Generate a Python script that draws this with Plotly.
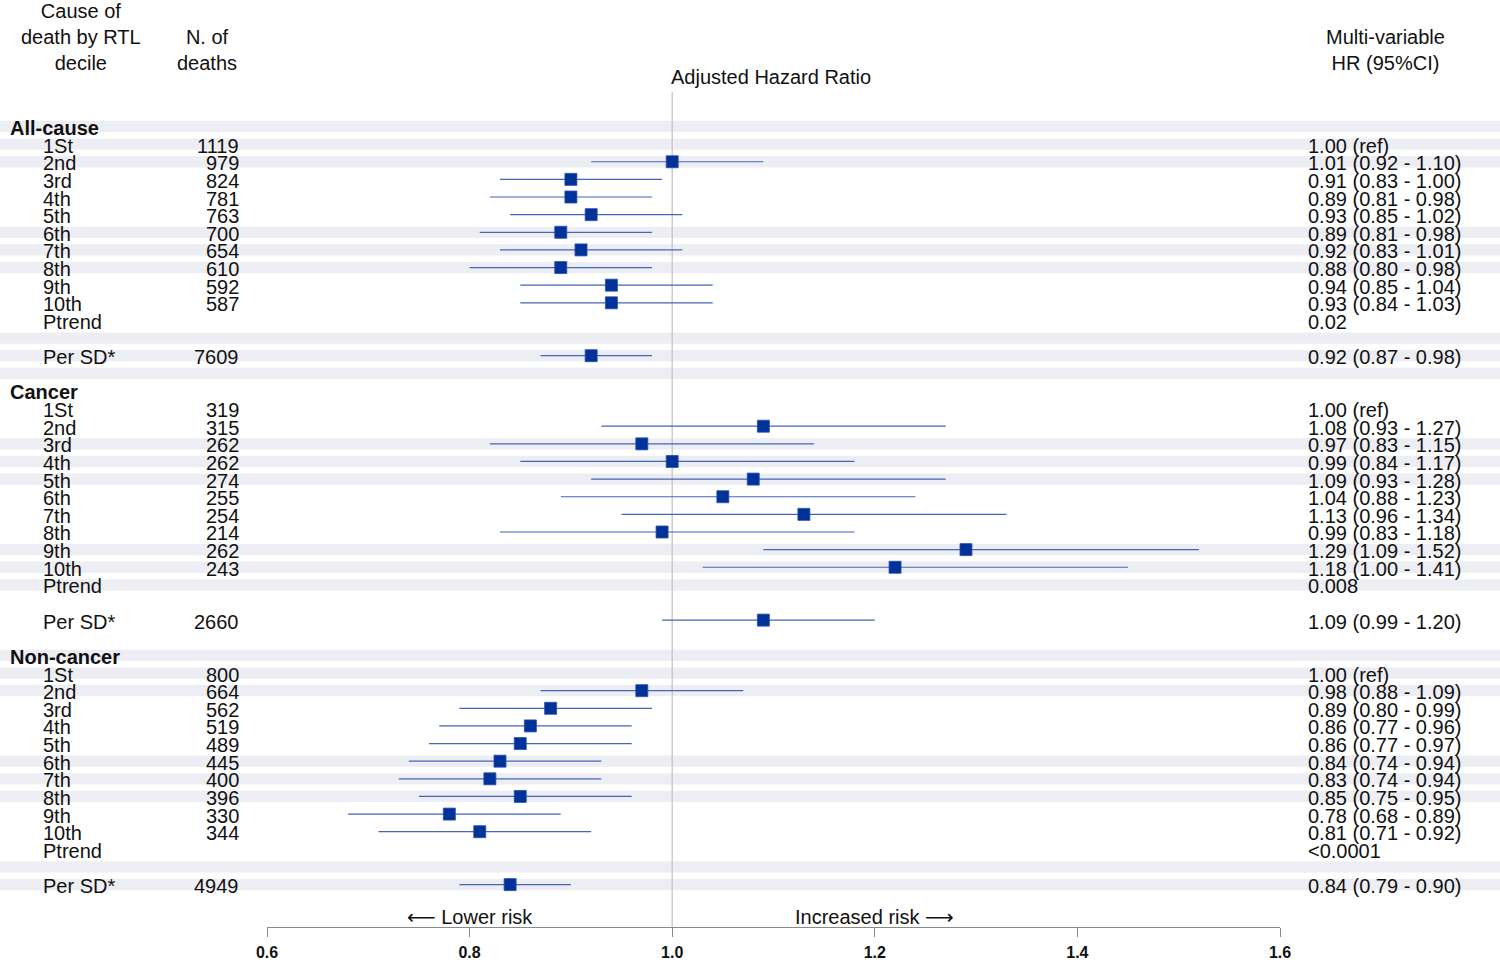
import plotly.graph_objects as go

# ---------------- data ----------------
sections = ["All-cause", "Cancer", "Non-cancer"]
decile_labels = ["1St", "2nd", "3rd", "4th", "5th", "6th", "7th", "8th", "9th", "10th"]

allcause_n = [1119, 979, 824, 781, 763, 700, 654, 610, 592, 587]
allcause_n_sd = 7609
allcause_hr_text = ["1.00 (ref)", "1.01 (0.92 - 1.10)", "0.91 (0.83 - 1.00)", "0.89 (0.81 - 0.98)",
                    "0.93 (0.85 - 1.02)", "0.89 (0.81 - 0.98)", "0.92 (0.83 - 1.01)", "0.88 (0.80 - 0.98)",
                    "0.94 (0.85 - 1.04)", "0.93 (0.84 - 1.03)"]
allcause_ptrend = "0.02"
allcause_sd_text = "0.92 (0.87 - 0.98)"
allcause_est = [None, 1.00, 0.90, 0.90, 0.92, 0.89, 0.91, 0.89, 0.94, 0.94]
allcause_lo = [None, 0.92, 0.83, 0.82, 0.84, 0.81, 0.83, 0.80, 0.85, 0.85]
allcause_hi = [None, 1.09, 0.99, 0.98, 1.01, 0.98, 1.01, 0.98, 1.04, 1.04]
allcause_sd = [0.92, 0.87, 0.98]

cancer_n = [319, 315, 262, 262, 274, 255, 254, 214, 262, 243]
cancer_n_sd = 2660
cancer_hr_text = ["1.00 (ref)", "1.08 (0.93 - 1.27)", "0.97 (0.83 - 1.15)", "0.99 (0.84 - 1.17)",
                  "1.09 (0.93 - 1.28)", "1.04 (0.88 - 1.23)", "1.13 (0.96 - 1.34)", "0.99 (0.83 - 1.18)",
                  "1.29 (1.09 - 1.52)", "1.18 (1.00 - 1.41)"]
cancer_ptrend = "0.008"
cancer_sd_text = "1.09 (0.99 - 1.20)"
cancer_est = [None, 1.09, 0.97, 1.00, 1.08, 1.05, 1.13, 0.99, 1.29, 1.22]
cancer_lo = [None, 0.93, 0.82, 0.85, 0.92, 0.89, 0.95, 0.83, 1.09, 1.03]
cancer_hi = [None, 1.27, 1.14, 1.18, 1.27, 1.24, 1.33, 1.18, 1.52, 1.45]
cancer_sd = [1.09, 0.99, 1.20]

noncancer_n = [800, 664, 562, 519, 489, 445, 400, 396, 330, 344]
noncancer_n_sd = 4949
noncancer_hr_text = ["1.00 (ref)", "0.98 (0.88 - 1.09)", "0.89 (0.80 - 0.99)", "0.86 (0.77 - 0.96)",
                     "0.86 (0.77 - 0.97)", "0.84 (0.74 - 0.94)", "0.83 (0.74 - 0.94)", "0.85 (0.75 - 0.95)",
                     "0.78 (0.68 - 0.89)", "0.81 (0.71 - 0.92)"]
noncancer_ptrend = "<0.0001"
noncancer_sd_text = "0.84 (0.79 - 0.90)"
noncancer_est = [None, 0.97, 0.88, 0.86, 0.85, 0.83, 0.82, 0.85, 0.78, 0.81]
noncancer_lo = [None, 0.87, 0.79, 0.77, 0.76, 0.74, 0.73, 0.75, 0.68, 0.71]
noncancer_hi = [None, 1.07, 0.98, 0.96, 0.96, 0.93, 0.93, 0.96, 0.89, 0.92]
noncancer_sd = [0.84, 0.79, 0.90]

x_ticks = [0.6, 0.8, 1.0, 1.2, 1.4, 1.6]

section_data = [
    (allcause_n, allcause_n_sd, allcause_hr_text, allcause_ptrend, allcause_sd_text,
     allcause_est, allcause_lo, allcause_hi, allcause_sd),
    (cancer_n, cancer_n_sd, cancer_hr_text, cancer_ptrend, cancer_sd_text,
     cancer_est, cancer_lo, cancer_hi, cancer_sd),
    (noncancer_n, noncancer_n_sd, noncancer_hr_text, noncancer_ptrend, noncancer_sd_text,
     noncancer_est, noncancer_lo, noncancer_hi, noncancer_sd),
]

# ---------------- styling ----------------
FONT = "Liberation Sans"
FS = 20
W, H = 1500, 962
ML, MR, MT, MB = 267, 220, 92, 35
PW = W - ML - MR
PH = H - MT - MB
ROWS_PER_SECTION = 15
N_ROWS = ROWS_PER_SECTION * len(sections)
ROW_PX = 17.63
FIRST_ROW_PX = 126.5  # pixel of first row centre (from top of figure)

def px_to_paper_x(px):
    return (px - ML) / PW

def px_to_paper_y(py):
    return (H - MB - py) / PH

y_top = (MT - FIRST_ROW_PX) / ROW_PX
y_bot = (H - MB - FIRST_ROW_PX) / ROW_PX

fig = go.Figure()
shapes = []
annotations = []

# zebra stripes: groups of three rows (the trailing blank row is not striped)
for r in range(N_ROWS - 1):
    if (r // 3) % 2 == 0:
        shapes.append(dict(type="rect", xref="paper", yref="y",
                           x0=px_to_paper_x(0), x1=px_to_paper_x(W),
                           y0=r - 0.32, y1=r + 0.32,
                           fillcolor="#EDEEF3", line=dict(width=0), layer="below"))

# reference line at HR = 1
shapes.append(dict(type="line", xref="x", yref="paper", x0=1.0, x1=1.0, y0=0, y1=1,
                   line=dict(color="#C4C4C4", width=1.3), layer="below"))

def txt(text, xp, y, anchor, bold=False, yref="y", size=FS, yshift=-1.5):
    annotations.append(dict(text=("<b>%s</b>" % text) if bold else text,
                            x=xp, y=y, xref="paper", yref=yref,
                            xanchor=anchor, yanchor="middle", showarrow=False,
                            yshift=yshift,
                            font=dict(family=FONT, size=size, color="#111111")))

X_SEC = px_to_paper_x(8)
X_LAB = px_to_paper_x(41)
X_N = px_to_paper_x(241)
X_HR = px_to_paper_x(1306)

ci_x, ci_y, pt_x, pt_y = [], [], [], []

for s, name in enumerate(sections):
    n, n_sd, hr_text, ptrend, sd_text, est, lo, hi, sd = section_data[s]
    base = s * ROWS_PER_SECTION
    txt(name, X_SEC, base, "left", bold=True)
    for d, lab in enumerate(decile_labels):
        row = base + 1 + d
        txt(lab, X_LAB, row, "left")
        txt(str(n[d]), X_N, row, "right")
        txt(hr_text[d], X_HR, row, "left")
        if est[d] is not None:
            pt_x.append(est[d]); pt_y.append(row)
            ci_x += [lo[d], hi[d], None]; ci_y += [row, row, None]
    row = base + 11
    txt("Ptrend", X_LAB, row, "left")
    txt(ptrend, X_HR, row, "left")
    row = base + 13
    txt("Per SD*", X_LAB, row, "left")
    txt(str(n_sd), X_N, row, "right")
    txt(sd_text, X_HR, row, "left")
    pt_x.append(sd[0]); pt_y.append(row)
    ci_x += [sd[1], sd[2], None]; ci_y += [row, row, None]

fig.add_trace(go.Scatter(x=ci_x, y=ci_y, mode="lines",
                         line=dict(color="#4366BA", width=1.2),
                         hoverinfo="skip", showlegend=False))
fig.add_trace(go.Scatter(x=pt_x, y=pt_y, mode="markers",
                         marker=dict(symbol="square", size=12, color="#00329A",
                                     line=dict(color="#2a4fa8", width=0.8)),
                         showlegend=False))

# headers
txt("Cause of<br>death by RTL<br>decile", px_to_paper_x(81), px_to_paper_y(37), "center",
    yref="paper", yshift=0)
txt("N. of<br>deaths", px_to_paper_x(207), px_to_paper_y(50.5), "center", yref="paper", yshift=0)
txt("Multi-variable<br>HR (95%CI)", px_to_paper_x(1385), px_to_paper_y(50.5), "center",
    yref="paper", yshift=0)
txt("Adjusted Hazard Ratio", px_to_paper_x(771), px_to_paper_y(77), "center", yref="paper", yshift=0)

# direction labels (arrows drawn with a font that has long arrow glyphs)
ARROW = '<span style="font-family:DejaVu Sans">%s</span>'
for label, xv in [(ARROW % "\u27f5" + " Lower risk", 0.8),
                  ("Increased risk " + ARROW % "\u27f6", 1.2)]:
    annotations.append(dict(text=label, x=xv, y=px_to_paper_y(917), xref="x", yref="paper",
                            xanchor="center", yanchor="middle", showarrow=False,
                            font=dict(family=FONT, size=FS, color="#111111")))

fig.update_layout(
    width=W, height=H,
    margin=dict(l=ML, r=MR, t=MT, b=MB, pad=0, autoexpand=False),
    paper_bgcolor="white", plot_bgcolor="white",
    shapes=shapes, annotations=annotations,
    xaxis=dict(range=[x_ticks[0], x_ticks[-1]], tickvals=x_ticks,
               ticktext=["<b>%.1f</b>" % v for v in x_ticks],
               ticks="outside", ticklen=9, tickwidth=1.3, tickcolor="#8A8A8A",
               ticklabelstandoff=2, automargin=False,
               showline=True, linecolor="#8A8A8A", linewidth=1.3,
               showgrid=False, zeroline=False,
               tickfont=dict(family=FONT, size=16, color="#111111")),
    yaxis=dict(range=[y_bot, y_top], visible=False, showgrid=False, zeroline=False,
               automargin=False),
)

fig.write_html("out.html", config={"displayModeBar": False},
               post_script="document.body.style.margin='0';")
